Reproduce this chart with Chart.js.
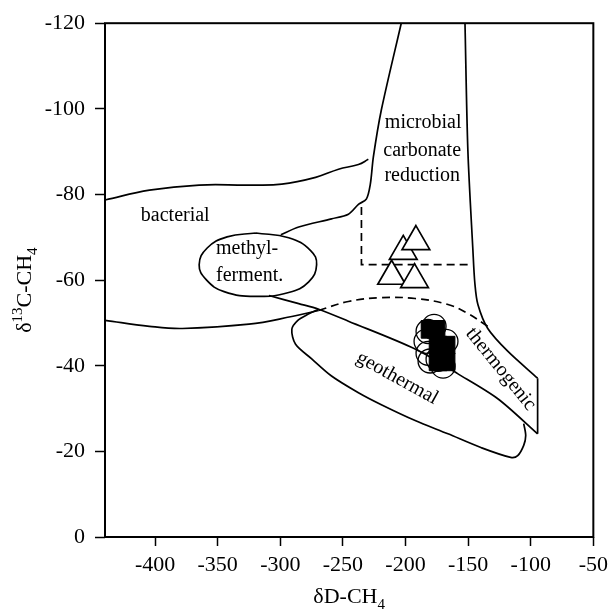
<!DOCTYPE html>
<html>
<head>
<meta charset="utf-8">
<script src="https://cdn.jsdelivr.net/npm/chart.js@4.4.0/dist/chart.umd.min.js"></script>
<style>
  html, body { margin: 0; padding: 0; background: #fff; }
</style>
</head>
<body>
<canvas id="chart" width="614" height="615"></canvas>
<script>
'use strict';

/* Axis ticks */
const xTicks = [-400, -350, -300, -250, -200, -150, -100, -50];
const yTicks = [-120, -100, -80, -60, -40, -20, 0];

/* Field boundaries, [dD, d13C] */
const bacterialTop = [[-440, -78.7], [-404.5, -81.0], [-364.8, -82.2], [-325, -82.2], [-298.8, -82.4], [-271.8, -84.0], [-253.5, -85.9], [-237.6, -87.0], [-229.7, -88.2]];
const bacterialBottom = [[-440, -50.6], [-404.5, -49.2], [-378.2, -48.7], [-325, -49.7], [-290.8, -51.5], [-269.4, -52.9]];
const microbialLeft = [[-203.4, -120], [-219.4, -99.6], [-225.7, -88.7], [-228.1, -82.4], [-231.3, -78.9], [-237.6, -77.7], [-245.6, -75.4], [-259.1, -74.3], [-285.3, -72.4], [-299.6, -70.6]];
const microbialRight = [[-152.5, -120], [-150.2, -90.3], [-146.2, -67.1], [-144.6, -59.2], [-142.2, -54.3], [-134.3, -48.7], [-118.4, -43.4], [-94.5, -37.1]];
const thermoEdge = [[-94.5, -37.1], [-94.5, -24.1]];
const methylLine = [[-309.1, -56.4], [-285.3, -54.5], [-269.4, -53.2], [-245.6, -50.4], [-192.3, -43.9], [-158.1, -38.1], [-126.3, -32.3], [-94.5, -24.1]];
const geothermal = [[-269.4, -53.2], [-278.0, -52.0], [-286.0, -50.6], [-290.8, -48.5], [-287.8, -45.0], [-274.9, -41.6], [-259.1, -37.6], [-237.6, -33.7], [-219.3, -30.9], [-192.3, -27.2], [-166.1, -24.1], [-139.8, -20.9], [-116.0, -18.6], [-110.4, -19.0], [-105.6, -21.4], [-104.0, -23.7], [-105.6, -26.5]];
const methylEllipse = [[-319.5, -71.0], [-293.3, -69.9], [-275.8, -66.9], [-271.0, -63.6], [-277.3, -59.6], [-293.3, -57.1], [-319.5, -56.2], [-344.9, -57.3], [-359.2, -60.1], [-364.8, -63.6], [-358.4, -67.5], [-342.5, -70.1], [-319.5, -71.0]];
const dashedBox = [[-235.2, -77.1], [-235.2, -63.6], [-148.6, -63.6]];
const dashedArc = [[-269.4, -52.9], [-245.6, -55.0], [-219.4, -55.9], [-192.3, -55.7], [-166.1, -54.3], [-150.2, -52.2], [-134.3, -49.2]];

/* Samples */
const triangles = [[-201.8, -66.7], [-191.7, -69.0], [-211.1, -60.9], [-192.8, -60.1]];
const circles = [[-182.0, -48.0], [-183.6, -45.7], [-182.0, -42.9], [-180.4, -41.1], [-170.0, -39.9], [-174.0, -41.5], [-167.7, -45.7], [-177.2, -49.2]];
const squares = [[-180.4, -48.5], [-175.6, -48.5], [-174.0, -44.8], [-167.6, -44.8], [-170.8, -42.9], [-174.0, -40.9], [-167.6, -40.9]];

/* Field names */
const notes = [
  { text: 'bacterial', x: -383.9, y: -73.8, angle: 0, align: 'center' },
  { text: 'methyl-', x: -351.3, y: -66.2, angle: 0, align: 'left' },
  { text: 'ferment.', x: -351.3, y: -59.7, angle: 0, align: 'left' },
  { text: 'microbial', x: -185.9, y: -95.6, angle: 0, align: 'center' },
  { text: 'carbonate', x: -186.7, y: -88.9, angle: 0, align: 'center' },
  { text: 'reduction', x: -186.7, y: -83.1, angle: 0, align: 'center' },
  { text: 'geothermal', x: -206.6, y: -37.1, angle: 29, align: 'center', mid: true },
  { text: 'thermogenic', x: -123.9, y: -39.2, angle: 51, align: 'center', mid: true },
];

const FONT = '"Liberation Serif", "Times New Roman", serif';
const pts = (arr) => arr.map((p) => ({ x: p[0], y: p[1] }));

const curve = (data, dash, tension) => ({
  data: pts(data),
  showLine: true,
  pointRadius: 0,
  borderColor: '#000',
  borderWidth: 1.7,
  borderDash: dash || [],
  tension: tension === undefined ? 0.4 : tension,
  fill: false,
});

// writes text with sub/superscripts, centred on cx
const drawParts = (ctx, parts, cx, base) => {
  let w = 0;
  parts.forEach((p) => {
    ctx.font = p[1] + 'px ' + FONT;
    w += ctx.measureText(p[0]).width;
  });
  let x = cx - w / 2;
  ctx.textAlign = 'left';
  ctx.textBaseline = 'alphabetic';
  parts.forEach((p) => {
    ctx.font = p[1] + 'px ' + FONT;
    ctx.fillText(p[0], x, base + p[2]);
    x += ctx.measureText(p[0]).width;
  });
};

const extras = {
  id: 'extras',
  afterDatasetsDraw(chart) {
    const { ctx, chartArea: a, scales } = chart;
    ctx.save();
    ctx.strokeStyle = '#000';
    ctx.lineWidth = 2;
    ctx.strokeRect(a.left, a.top, a.right - a.left, a.bottom - a.top);

    ctx.fillStyle = '#000';
    notes.forEach((n) => {
      ctx.save();
      ctx.translate(scales.x.getPixelForValue(n.x), scales.y.getPixelForValue(n.y));
      ctx.rotate((n.angle * Math.PI) / 180);
      ctx.font = '20px ' + FONT;
      ctx.textAlign = n.align;
      ctx.textBaseline = n.mid ? 'middle' : 'alphabetic';
      ctx.fillText(n.text, 0, 0);
      ctx.restore();
    });

    drawParts(ctx, [['δD-CH', 22, 0], ['4', 15, 6]], (a.left + a.right) / 2, 603);
    ctx.translate(31, (a.top + a.bottom) / 2 + 10);
    ctx.rotate(-Math.PI / 2);
    drawParts(ctx, [['δ', 22, 0], ['13', 15, -9], ['C-CH', 22, 0], ['4', 15, 6]], 0, 0);
    ctx.restore();
  },
};

new Chart(document.getElementById('chart'), {
  type: 'scatter',
  data: {
    datasets: [
      {
        data: pts(triangles),
        pointStyle: 'triangle',
        pointRadius: 16,
        pointBackgroundColor: '#fff',
        pointBorderColor: '#000',
        pointBorderWidth: 1.7,
      },
      {
        data: pts(squares),
        pointStyle: 'rect',
        pointRadius: 12.5,
        pointBackgroundColor: '#000',
        pointBorderColor: '#000',
        pointBorderWidth: 1,
      },
      {
        data: pts(circles),
        pointStyle: 'circle',
        pointRadius: 12,
        pointBackgroundColor: 'rgba(0,0,0,0)',
        pointBorderColor: '#000',
        pointBorderWidth: 1.3,
      },
      curve(bacterialTop),
      curve(bacterialBottom),
      curve(microbialLeft, null, 0.3),
      curve(microbialRight, null, 0.3),
      curve(thermoEdge, null, 0),
      curve(methylLine, null, 0.3),
      curve(geothermal, null, 0.3),
      curve(methylEllipse, null, 0.45),
      curve(dashedBox, [8, 5], 0),
      curve(dashedArc, [8, 5], 0.4),
    ],
  },
  options: {
    responsive: false,
    animation: false,
    layout: { padding: { left: 0, right: 18, top: 20, bottom: 0 } },
    plugins: { legend: { display: false }, tooltip: { enabled: false } },
    scales: {
      x: {
        type: 'linear',
        min: -440,
        max: -50,
        afterBuildTicks: (scale) => {
          scale.ticks = xTicks.map((v) => ({ value: v }));
        },
        afterFit: (scale) => {
          scale.height = 78;
        },
        border: { display: false },
        grid: { drawOnChartArea: false, drawTicks: true, tickLength: 9, tickColor: '#000', tickWidth: 1.5 },
        ticks: { color: '#000', padding: 6, maxRotation: 0, font: { family: FONT, size: 22 }, callback: (v) => String(v) },
      },
      y: {
        type: 'linear',
        reverse: true,
        min: -120,
        max: 0,
        afterBuildTicks: (scale) => {
          scale.ticks = yTicks.map((v) => ({ value: v }));
        },
        afterFit: (scale) => {
          scale.width = 105;
        },
        border: { display: false },
        grid: { drawOnChartArea: false, drawTicks: true, tickLength: 10, tickColor: '#000', tickWidth: 1.5 },
        ticks: { color: '#000', padding: 10, font: { family: FONT, size: 22 }, callback: (v) => String(v) },
      },
    },
  },
  plugins: [extras],
});
</script>
</body>
</html>
